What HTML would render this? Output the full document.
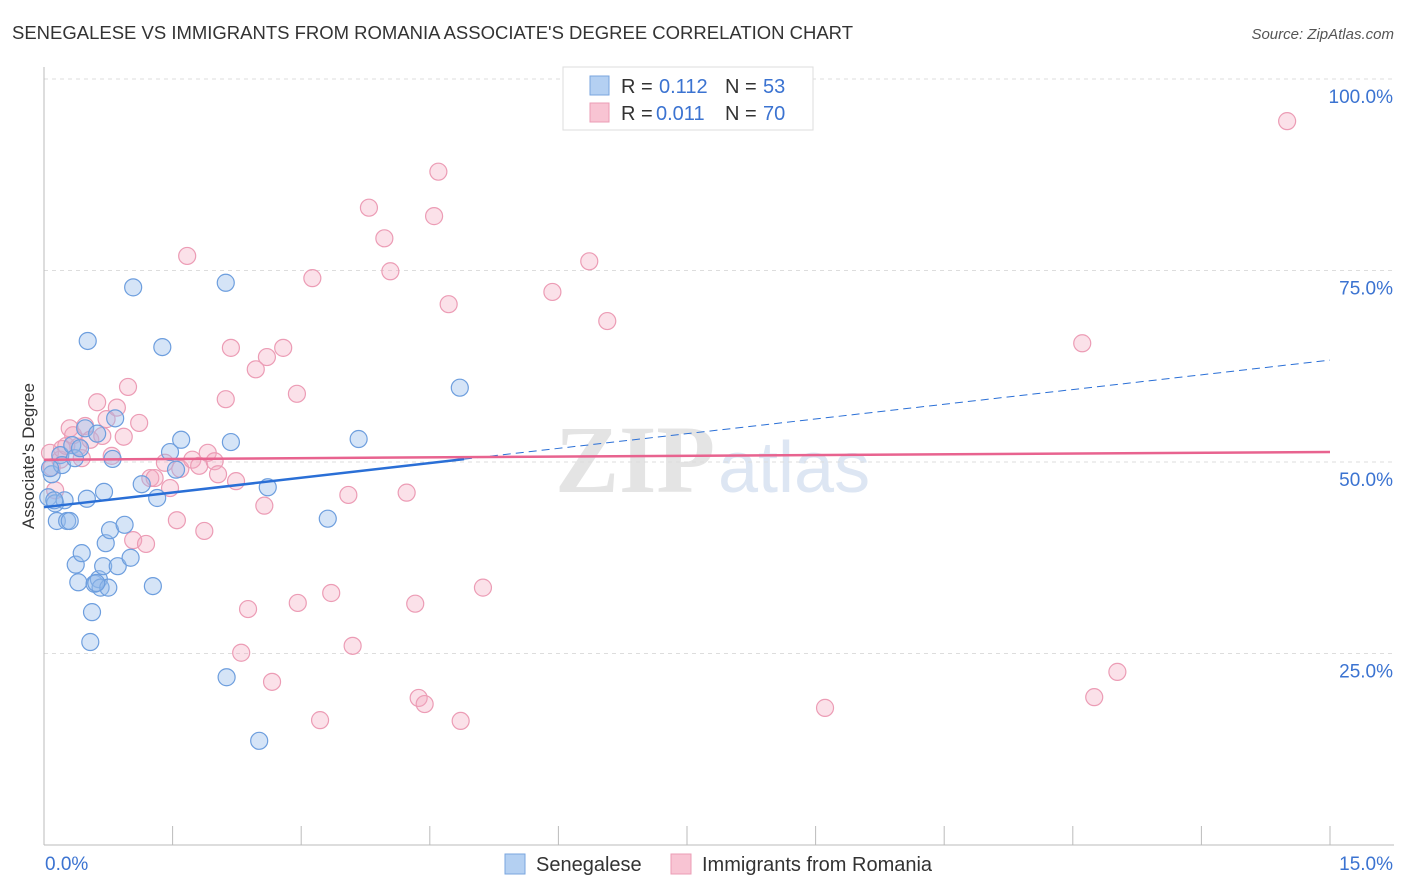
<!DOCTYPE html>
<html><head><meta charset="utf-8"><style>
body{margin:0;background:#fff;font-family:"Liberation Sans",sans-serif;}
#wrap{position:relative;width:1406px;height:892px;overflow:hidden;}
</style></head><body>
<div id="wrap">
<svg id="chart" width="1406" height="892" xmlns="http://www.w3.org/2000/svg">
<text x="12" y="39" font-size="18" fill="#333" textLength="841" lengthAdjust="spacingAndGlyphs">SENEGALESE VS IMMIGRANTS FROM ROMANIA ASSOCIATE'S DEGREE CORRELATION CHART</text>
<text x="1394" y="39" font-size="15" fill="#555" font-style="italic" text-anchor="end">Source: ZipAtlas.com</text>
<text x="0" y="0" transform="translate(34,456) rotate(-90)" font-size="17" fill="#333" text-anchor="middle">Associate's Degree</text>
<text x="555" y="492" font-size="96" font-family="Liberation Serif,serif" font-weight="bold" fill="#e4e4e4">ZIP</text>
<text x="718" y="492" font-size="72" fill="#dde6f3">atlas</text>
<g id="grid"></g><g id="pts"></g><g id="trend"></g>
<g>
<rect x="563" y="67" width="250" height="63" fill="#fff" stroke="#ddd"/>
<rect x="590" y="76" width="19" height="19" fill="#b4d0f2" stroke="#7aa6df"/>
<rect x="590" y="103" width="19" height="19" fill="#f8c4d3" stroke="#eb9db6"/>
<g font-size="20" fill="#333">
<text x="621" y="93">R =</text><text x="659" y="93" fill="#3b73d1">0.112</text><text x="725" y="93">N =</text><text x="763" y="93" fill="#3b73d1">53</text></g>
<g font-size="20" fill="#333">
<text x="621" y="120">R =</text><text x="656" y="120" fill="#3b73d1">0.011</text><text x="725" y="120">N =</text><text x="763" y="120" fill="#3b73d1">70</text></g>
</g>
<rect x="505" y="854" width="20" height="20" fill="#b4d0f2" stroke="#7aa6df"/>
<text x="536" y="871" font-size="20" fill="#333">Senegalese</text>
<rect x="671" y="854" width="20" height="20" fill="#f8c4d3" stroke="#eb9db6"/>
<text x="702" y="871" font-size="20" fill="#333">Immigrants from Romania</text>
</svg></div>
<script>
const blueX=[0.05,0.09,0.13,0.15,0.19,0.21,0.24,0.27,0.30,0.33,0.36,0.37,0.40,0.42,0.44,0.48,0.50,0.51,0.54,0.56,0.59,0.62,0.64,0.66,0.69,0.70,0.72,0.75,0.77,0.80,0.83,0.86,0.94,1.01,1.04,1.14,1.27,1.32,1.38,1.47,1.54,1.60,2.12,2.13,2.18,2.51,2.61,3.31,3.67,4.85,0.61,0.12,0.07];
const blueY=[45.4,48.4,44.6,42.3,50.9,49.6,45.0,42.3,42.3,52.2,50.5,36.6,34.3,51.8,38.1,54.4,45.2,65.8,26.5,30.4,34.1,53.7,34.7,33.6,36.4,46.1,39.4,33.6,41.1,50.4,55.7,36.4,41.8,37.5,72.8,47.1,33.8,45.3,65.0,51.3,49.0,52.9,73.4,21.9,52.6,13.6,46.7,42.6,53.0,59.7,34.2,45.0,49.2];
const pinkX=[0.07,0.09,0.13,0.19,0.21,0.26,0.30,0.34,0.40,0.44,0.48,0.54,0.62,0.68,0.73,0.79,0.85,0.93,0.98,1.04,1.11,1.19,1.24,1.29,1.41,1.47,1.55,1.59,1.67,1.73,1.81,1.87,1.91,1.99,2.03,2.12,2.18,2.24,2.30,2.38,2.47,2.57,2.60,2.66,2.79,2.95,2.96,3.13,3.22,3.35,3.55,3.60,3.79,3.97,4.04,4.23,4.33,4.37,4.44,4.55,4.60,4.72,4.86,5.12,5.93,6.36,6.57,9.11,12.11,12.25,12.52,14.50];
const pinkY=[51.2,49.3,46.3,50.3,51.7,52.1,54.4,53.5,52.0,50.5,54.7,52.9,57.8,53.4,55.6,50.8,57.1,53.3,59.8,39.8,55.1,39.3,47.9,47.9,49.9,46.6,42.4,49.1,76.9,50.3,49.5,41.0,51.2,50.1,48.4,58.2,64.9,47.5,25.1,30.8,62.1,44.3,63.7,21.3,64.9,58.9,31.6,74.0,16.3,32.9,45.7,26.0,83.2,79.2,74.9,46.0,31.5,19.2,18.4,82.1,87.9,70.6,16.2,33.6,72.2,76.2,68.4,17.9,65.5,19.3,22.6,94.5];
const yTicks=[25,50,75,100];
const yTickLabels=["25.0%","50.0%","75.0%","100.0%"];
const xTicks=[0,1.5,3,4.5,6,7.5,9,10.5,12,13.5,15];
const blueTrend=[44.1,1.28];
const pinkTrend=[50.3,0.067];
const blueSolidEnd=4.9;

const NS="http://www.w3.org/2000/svg";
const X0=44,X1=1330,YB=845,YT=79;
const sx=v=>X0+v/15*(X1-X0);
const sy=v=>YB-v/100*(YB-YT);
function mk(tag,attrs,parent){const e=document.createElementNS(NS,tag);for(const k in attrs)e.setAttribute(k,attrs[k]);parent.appendChild(e);return e;}
const grid=document.getElementById('grid');
yTicks.forEach((t,i)=>{
  const l=mk('line',{x1:X0,x2:1394,y1:sy(t),y2:sy(t),stroke:'#ddd','stroke-dasharray':'4,4'},grid);
  
  
  const tx=mk('text',{x:1393,y:sy(t)+24,'font-size':19,fill:'#3b73d1','text-anchor':'end'},grid);
  tx.textContent=yTickLabels[i];
  
  
});
const ax=mk('line',{x1:X0,x2:1394,y1:YB,y2:YB,stroke:'#bbb'},grid);


const ay=mk('line',{x1:X0,x2:X0,y1:67,y2:YB,stroke:'#bbb'},grid);


xTicks.forEach(t=>{
  const l=mk('line',{x1:sx(t),x2:sx(t),y1:YB,y2:826,stroke:'#bbb'},grid);
  
  
});
const xl0=mk('text',{x:45,y:870,'font-size':19,fill:'#3b73d1'},grid);xl0.textContent='0.0%';


const xl1=mk('text',{x:1393,y:870,'font-size':19,fill:'#3b73d1','text-anchor':'end'},grid);xl1.textContent='15.0%';


const pts=document.getElementById('pts');
pinkX.forEach((x,i)=>{
  const c=mk('circle',{cx:sx(x),cy:sy(pinkY[i]),r:8.5,fill:'rgba(244,170,193,0.35)',stroke:'#ec9cb5','stroke-width':1.2},pts);
  
  
});
blueX.forEach((x,i)=>{
  const c=mk('circle',{cx:sx(x),cy:sy(blueY[i]),r:8.5,fill:'rgba(150,188,236,0.4)',stroke:'#6d9ede','stroke-width':1.2},pts);
  
  
});
const tr=document.getElementById('trend');
const bf=v=>blueTrend[0]+blueTrend[1]*v, pf=v=>pinkTrend[0]+pinkTrend[1]*v;
const b1=mk('line',{x1:sx(0),y1:sy(bf(0)),x2:sx(blueSolidEnd),y2:sy(bf(blueSolidEnd)),stroke:'#2a6fd6','stroke-width':2.5},tr);


const b2=mk('line',{x1:sx(blueSolidEnd),y1:sy(bf(blueSolidEnd)),x2:sx(15),y2:sy(bf(15)),stroke:'#2a6fd6','stroke-width':1,'stroke-dasharray':'8,5'},tr);


const p1=mk('line',{x1:sx(0),y1:sy(pf(0)),x2:sx(15),y2:sy(pf(15)),stroke:'#e8638f','stroke-width':2.5},tr);


</script>
</body></html>
